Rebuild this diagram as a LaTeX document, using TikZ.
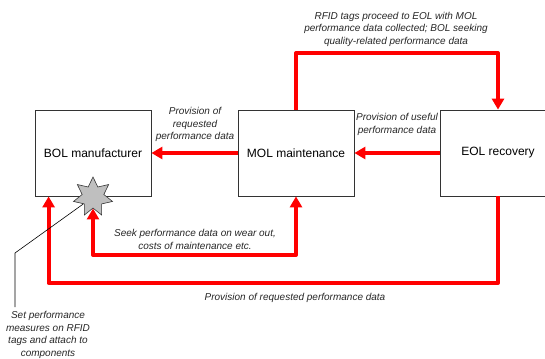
\documentclass[tikz,border=0pt]{standalone}
\usepackage{fontspec}
\setmainfont{Liberation Sans}
\usetikzlibrary{arrows.meta,shapes.geometric}
\begin{document}
\begin{tikzpicture}[x=1pt,y=-1pt,
  box/.style={draw=black!80, line width=0.8pt, minimum width=116pt, minimum height=86pt, inner sep=0pt, font=\fontsize{12}{14}\selectfont},
  flow/.style={draw=red, line width=4pt, line join=round, -{Triangle[width=12pt,length=11pt]}},
  twoway/.style={{Triangle[width=12pt,length=11pt]}-{Triangle[width=12pt,length=11pt]}},
  lbl/.style={font=\itshape\fontsize{10}{12.5}\selectfont, text=black!85, align=center, inner sep=0pt},
  callout/.style={draw=black, line width=0.6pt},
  burst/.style={star, star points=7, star point ratio=1.8, minimum size=40pt, inner sep=0pt, draw=black!80, fill=black!25, line width=0.6pt}
]
\useasboundingbox (0,0) rectangle (545,358);
\node[box] (bol) at (93,153) {BOL manufacturer};
\node[box] (mol) at (296,153) {MOL maintenance};
\node[box] (eol) at (498,153) {EOL recovery};

\coordinate (topy) at (0,53);
\coordinate (seeky) at (0,255);
\coordinate (outy) at (0,283);
\coordinate (star0) at (93,197);

\draw[flow] (mol.north) -- (mol.north |- topy) -| (eol.north);
\draw[flow] (mol.west) -- (bol.east);
\draw[flow] (eol.west) -- (mol.east);
\draw[flow] (eol.south) -- (eol.south |- outy) -| ([xshift=14pt]bol.south west);

\node[burst] (star) at (star0) {};
\draw[flow, twoway] (star) -- (star |- seeky) -| (mol.south);

\coordinate (bend) at (15,253);
\coordinate (cend) at (15,307);
\draw[callout] (star) -- (bend) -- (cend);

\node[lbl] (ltop) at (396,29) {RFID tags proceed to EOL with MOL\\performance data collected; BOL seeking\\quality-related performance data};
\node[lbl] (lreq) at (195,124.5) {Provision of\\requested\\performance data};
\node[lbl] (luse) at (397,124.5) {Provision of useful\\performance data};
\node[lbl] (lseek) at (195,239.5) {Seek performance data on wear out,\\costs of maintenance etc.};
\node[lbl] (lbot) at (295,298) {Provision of requested performance data};
\node[lbl] (lset) at (48,335) {Set performance\\measures on RFID\\tags and attach to\\components};
\end{tikzpicture}
\end{document}
